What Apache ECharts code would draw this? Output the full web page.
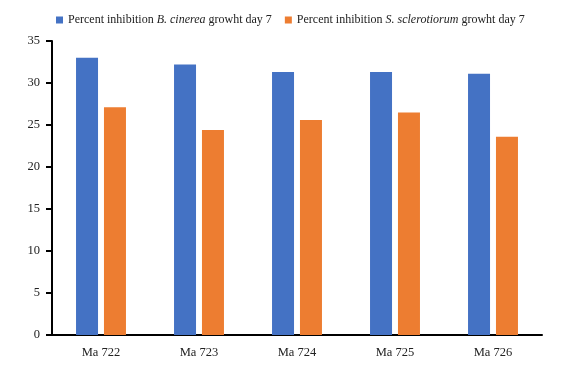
<!DOCTYPE html>
<html>
<head>
<meta charset="utf-8">
<script src="https://cdn.jsdelivr.net/npm/echarts@6/dist/echarts.min.js"></script>
<style>
  html, body { margin: 0; padding: 0; background: #fff; }
  #main { width: 581px; height: 376px; }
</style>
</head>
<body>
<div id="main"></div>
<script>
var myChart = echarts.init(document.getElementById('main'));

var categories = ['Ma 722', 'Ma 723', 'Ma 724', 'Ma 725', 'Ma 726'];
var cinerea = [33.0, 32.2, 31.3, 31.3, 31.1];
var sclerotiorum = [27.1, 24.4, 25.6, 26.5, 23.6];
var seriesNames = ['cinerea', 'sclerotiorum'];

var legendLabels = {
    cinerea: '{n|Percent inhibition }{i|B. cinerea}{n| growht day 7}',
    sclerotiorum: '{n|Percent inhibition }{i|S. sclerotiorum}{n| growht day 7}'
};

var font = 'Liberation Serif';

option = {
    backgroundColor: '#fff',
    animation: false,
    legend: {
        left: 51,
        top: 9,
        itemWidth: 7,
        itemHeight: 7,
        itemGap: 13,
        icon: 'rect',
        data: seriesNames,
        formatter: function(name) {
            return legendLabels[name];
        },
        textStyle: {
            fontFamily: font,
            fontSize: 12,
            color: '#222',
            rich: {
                n: { fontFamily: font, fontSize: 12, color: '#222' },
                i: { fontFamily: font, fontSize: 12, color: '#222', fontStyle: 'italic' }
            }
        }
    },
    grid: {
        left: 52,
        right: 39,
        top: 41,
        bottom: 41
    },
    xAxis: {
        type: 'category',
        data: categories,
        axisLine: { lineStyle: { color: '#000', width: 2 } },
        axisTick: { show: false },
        axisLabel: {
            margin: 11,
            fontFamily: font,
            fontSize: 12.5,
            color: '#222'
        }
    },
    yAxis: {
        type: 'value',
        min: 0,
        max: 35,
        interval: 5,
        axisLine: { show: true, lineStyle: { color: '#000', width: 2 } },
        axisTick: { show: true, length: 6, lineStyle: { color: '#000', width: 2 } },
        splitLine: { show: false },
        axisLabel: {
            margin: 12,
            fontFamily: font,
            fontSize: 12.5,
            color: '#222'
        }
    },
    series: [{
        name: 'cinerea',
        type: 'bar',
        data: cinerea,
        barWidth: 22,
        barGap: '27%',
        itemStyle: { color: '#4472C4' }
    }, {
        name: 'sclerotiorum',
        type: 'bar',
        data: sclerotiorum,
        barWidth: 22,
        itemStyle: { color: '#ED7D31' }
    }]
};

myChart.setOption(option);
</script>
</body>
</html>
